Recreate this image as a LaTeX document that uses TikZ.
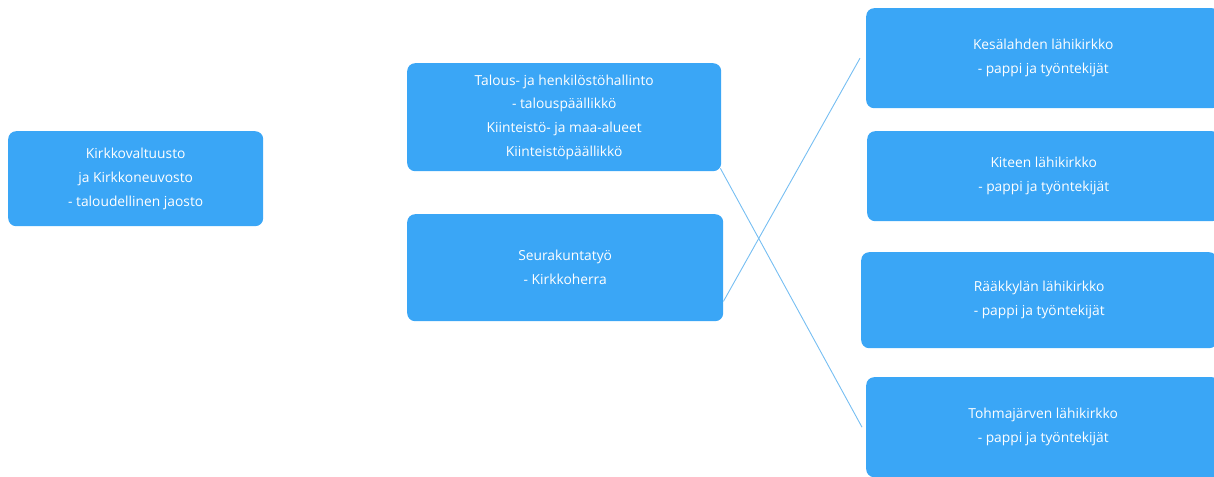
\documentclass[tikz,border=0pt]{standalone}
\usepackage{fontspec}
\setmainfont{Open Sans}
\definecolor{boxblue}{RGB}{58,166,246}
\definecolor{lineblue}{RGB}{118,190,242}
\begin{document}
\begin{tikzpicture}[x=1pt,y=-1pt,
  box/.style={fill=boxblue, rounded corners=8pt, anchor=north west, inner sep=0pt,
    text=white, align=center, font=\fontsize{13.8}{23.8}\selectfont},
  conn/.style={draw=lineblue, line width=0.9pt}]
\useasboundingbox (0,0) rectangle (1214,476);
\begin{scope}
\clip (0,0) rectangle (1214,476);
\node[box, minimum width=255pt, minimum height=95pt] (valt) at (8,131)
  {Kirkkovaltuusto\\ja Kirkkoneuvosto\\- taloudellinen jaosto};
\node[box, minimum width=314pt, minimum height=108pt] (talous) at (407,63)
  {Talous- ja henkilöstöhallinto\\- talouspäällikkö\\Kiinteistö- ja maa-alueet\\Kiinteistöpäällikkö};
\node[box, minimum width=316pt, minimum height=107pt] (seura) at (407,214)
  {Seurakuntatyö\\- Kirkkoherra};
\node[box, minimum width=354pt, minimum height=100pt] (kesa) at (866,8)
  {Kesälahden lähikirkko\\- pappi ja työntekijät};
\node[box, minimum width=353pt, minimum height=90pt] (kite) at (867,131)
  {Kiteen lähikirkko\\- pappi ja työntekijät};
\node[box, minimum width=356pt, minimum height=96pt] (raak) at (861,252)
  {Rääkkylän lähikirkko\\- pappi ja työntekijät};
\node[box, minimum width=354pt, minimum height=100pt] (tohma) at (866,377)
  {Tohmajärven lähikirkko\\- pappi ja työntekijät};
\end{scope}
\coordinate (sStart) at ([yshift=20pt]seura.south east);
\coordinate (kEnd) at ([xshift=-6pt]kesa.west);
\coordinate (tStart) at ([xshift=-1pt,yshift=3pt]talous.south east);
\coordinate (tEnd) at ([xshift=-4pt]tohma.west);
\draw[conn] (tStart) -- (tEnd);
\draw[conn] (sStart) -- (kEnd);
\end{tikzpicture}
\end{document}
